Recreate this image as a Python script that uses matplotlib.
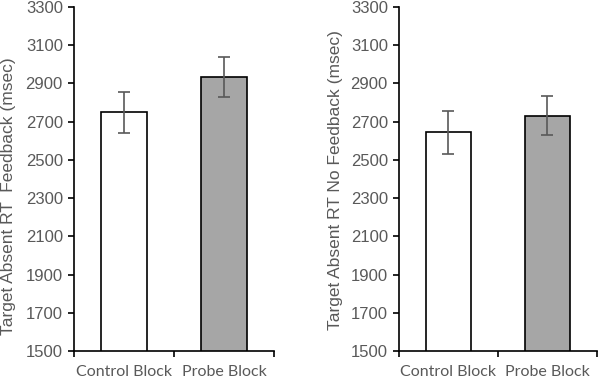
import matplotlib.pyplot as plt

# Data
categories = ["Control Block", "Probe Block"]
feedback_means = [2750, 2935]
feedback_err = [107, 105]
nofeedback_means = [2644, 2732]
nofeedback_err = [112, 104]
y_ticks = list(range(1500, 3301, 200))

bar_colors = ["white", "#A6A6A6"]
text_gray = "#595959"

fig = plt.figure(figsize=(5.98, 3.78), dpi=100)
ax1 = fig.add_axes([0.1237, 0.0714, 0.3345, 0.9101])
ax2 = fig.add_axes([0.6672, 0.0714, 0.3311, 0.9101])

# label position in pixels: right edge of rotated text, vertical centre
panels = [
    (ax1, feedback_means, feedback_err, "Target Absent RT  Feedback (msec)", (16, 196)),
    (ax2, nofeedback_means, nofeedback_err, "Target Absent RT No Feedback (msec)", (343, 180)),
]

for ax, means, errs, ylabel, (lx, ly) in panels:
    x = range(len(categories))
    ax.bar(x, means, width=0.46, color=bar_colors, edgecolor="black",
           linewidth=1.2, zorder=2)
    ax.errorbar(x, means, yerr=errs, fmt="none", ecolor="#595959",
                elinewidth=1.2, capsize=4, capthick=1.2, zorder=3)
    ax.set_ylim(1500, 3300)
    ax.set_xlim(-0.5, 1.5)
    ax.set_yticks(y_ticks)
    ax.set_yticklabels([str(t) for t in y_ticks], fontsize=12,
                       color=text_gray, family="Liberation Sans")
    # category ticks sit between bars, labels under bars
    ax.set_xticks([-0.5, 0.5, 1.5])
    ax.set_xticklabels([])
    ax.set_xticks([0, 1], minor=True)
    ax.set_xticklabels(categories, minor=True, fontsize=11.5,
                       color=text_gray, family="Lato")
    ax.tick_params(axis="x", which="minor", length=0, pad=10)
    ax.tick_params(axis="x", which="major", length=4, width=1.2)
    ax.tick_params(axis="y", length=4, width=1.2, pad=4)
    for s in ["top", "right"]:
        ax.spines[s].set_visible(False)
    for s in ["left", "bottom"]:
        ax.spines[s].set_linewidth(1.2)
    ax.set_ylabel(ylabel, fontsize=12.5, color=text_gray,
                  family="Liberation Sans")
    ax.yaxis.set_label_coords(lx / 598, 1 - ly / 378, transform=fig.transFigure)

fig.savefig("out.png", dpi=100)
